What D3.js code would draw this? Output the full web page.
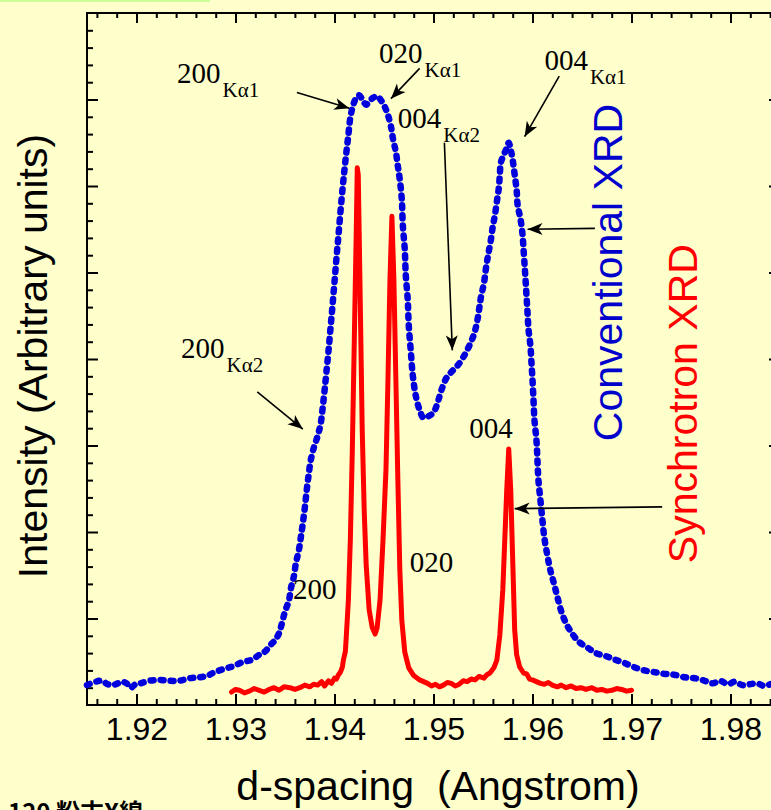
<!DOCTYPE html>
<html>
<head>
<meta charset="utf-8">
<script src="https://cdn.jsdelivr.net/npm/d3@7/dist/d3.min.js"></script>
<style>
  body { margin: 0; background: #ffffcc; }
  svg { display: block; }
</style>
</head>
<body>
<script>
'use strict';

// conventional XRD (blue dotted) : d-spacing and intensity
const convD = [1.9150, 1.9159, 1.9165, 1.9171, 1.9176, 1.9181, 1.9185, 1.9190, 1.9194, 1.9199,
  1.9204, 1.9213, 1.9223, 1.9233, 1.9243, 1.9254, 1.9264, 1.9272, 1.9279, 1.9289,
  1.9298, 1.9308, 1.9316, 1.9324, 1.9330, 1.9335, 1.9340, 1.9344, 1.9347, 1.9350,
  1.9354, 1.9356, 1.9359, 1.9361, 1.9364, 1.9366, 1.9368, 1.9370, 1.9372, 1.9374,
  1.9376, 1.9379, 1.9383, 1.9386, 1.9388, 1.9390, 1.9392, 1.9394, 1.9396, 1.9398,
  1.9400, 1.9402, 1.9404, 1.9406, 1.9408, 1.9410, 1.9412, 1.9414, 1.9416, 1.9419,
  1.9422, 1.9425, 1.9429, 1.9432, 1.9435, 1.9439, 1.9443, 1.9447, 1.9451, 1.9454,
  1.9457, 1.9459, 1.9462, 1.9464, 1.9466, 1.9468, 1.9469, 1.9471, 1.9472, 1.9474,
  1.9475, 1.9477, 1.9479, 1.9482, 1.9486, 1.9490, 1.9495, 1.9500, 1.9504, 1.9508,
  1.9513, 1.9518, 1.9524, 1.9530, 1.9536, 1.9541, 1.9544, 1.9546, 1.9548, 1.9551,
  1.9553, 1.9555, 1.9558, 1.9560, 1.9562, 1.9564, 1.9566, 1.9567, 1.9568, 1.9571,
  1.9574, 1.9576, 1.9578, 1.9580, 1.9582, 1.9584, 1.9585, 1.9588, 1.9590, 1.9591,
  1.9592, 1.9593, 1.9594, 1.9595, 1.9596, 1.9598, 1.9599, 1.9600, 1.9601, 1.9602,
  1.9604, 1.9605, 1.9606, 1.9608, 1.9610, 1.9612, 1.9615, 1.9618, 1.9622, 1.9626,
  1.9630, 1.9635, 1.9641, 1.9647, 1.9656, 1.9664, 1.9673, 1.9682, 1.9692, 1.9702,
  1.9713, 1.9723, 1.9733, 1.9743, 1.9754, 1.9764, 1.9774, 1.9782, 1.9789, 1.9798,
  1.9804, 1.9812, 1.9819, 1.9827, 1.9834, 1.9840];
const convI = [0.23, 0.27, 0.28, 0.24, 0.23, 0.25, 0.27, 0.25, 0.20, 0.24,
  0.25, 0.28, 0.29, 0.28, 0.28, 0.31, 0.32, 0.34, 0.38, 0.42,
  0.45, 0.50, 0.52, 0.58, 0.62, 0.69, 0.75, 0.83, 0.95, 1.08,
  1.21, 1.35, 1.49, 1.64, 1.79, 1.94, 2.10, 2.28, 2.49, 2.67,
  2.83, 2.97, 3.11, 3.25, 3.43, 3.64, 3.87, 4.10, 4.36, 4.62,
  4.89, 5.17, 5.43, 5.70, 5.95, 6.18, 6.39, 6.59, 6.79, 6.94,
  7.02, 7.05, 6.98, 6.94, 6.98, 7.02, 7.04, 6.99, 6.91, 6.82,
  6.69, 6.55, 6.39, 6.23, 6.07, 5.84, 5.55, 5.26, 4.97, 4.68,
  4.39, 4.10, 3.82, 3.58, 3.41, 3.32, 3.34, 3.38, 3.49, 3.64,
  3.78, 3.85, 3.92, 4.02, 4.15, 4.29, 4.43, 4.57, 4.72, 4.88,
  5.05, 5.19, 5.38, 5.54, 5.66, 5.82, 5.98, 6.13, 6.27, 6.36,
  6.44, 6.50, 6.42, 6.30, 6.13, 5.95, 5.78, 5.61, 5.43, 5.26,
  5.09, 4.91, 4.72, 4.53, 4.34, 4.14, 3.95, 3.76, 3.53, 3.29,
  3.06, 2.83, 2.60, 2.37, 2.14, 1.93, 1.73, 1.56, 1.39, 1.21,
  1.05, 0.92, 0.81, 0.73, 0.66, 0.60, 0.57, 0.53, 0.49, 0.44,
  0.40, 0.38, 0.36, 0.35, 0.32, 0.31, 0.28, 0.25, 0.28, 0.24,
  0.27, 0.23, 0.24, 0.25, 0.22, 0.24];

// synchrotron XRD (red solid)
const synD = [1.9296, 1.9300, 1.9304, 1.9309, 1.9314, 1.9319, 1.9324, 1.9329, 1.9334, 1.9339,
  1.9344, 1.9349, 1.9355, 1.9360, 1.9365, 1.9370, 1.9375, 1.9379, 1.9383, 1.9387,
  1.9390, 1.9394, 1.9397, 1.9400, 1.9402, 1.9404, 1.9406, 1.9408, 1.9409, 1.9411,
  1.9412, 1.9414, 1.9416, 1.9418, 1.9420, 1.9422, 1.9423, 1.9424, 1.9426, 1.9428,
  1.9430, 1.9432, 1.9435, 1.9438, 1.9441, 1.9443, 1.9446, 1.9449, 1.9452, 1.9454,
  1.9456, 1.9458, 1.9460, 1.9462, 1.9464, 1.9466, 1.9468, 1.9471, 1.9475, 1.9480,
  1.9486, 1.9490, 1.9494, 1.9498, 1.9502, 1.9506, 1.9510, 1.9514, 1.9518, 1.9522,
  1.9526, 1.9530, 1.9534, 1.9538, 1.9542, 1.9546, 1.9551, 1.9554, 1.9557, 1.9561,
  1.9564, 1.9567, 1.9570, 1.9572, 1.9574, 1.9576, 1.9578, 1.9580, 1.9582, 1.9584,
  1.9587, 1.9591, 1.9594, 1.9597, 1.9600, 1.9604, 1.9608, 1.9612, 1.9616, 1.9620,
  1.9625, 1.9629, 1.9634, 1.9639, 1.9644, 1.9649, 1.9654, 1.9660, 1.9665, 1.9670,
  1.9675, 1.9680, 1.9685, 1.9690, 1.9695, 1.9700];
const synI = [0.15, 0.18, 0.17, 0.14, 0.16, 0.19, 0.17, 0.15, 0.18, 0.20,
  0.17, 0.21, 0.20, 0.18, 0.20, 0.23, 0.21, 0.24, 0.23, 0.27,
  0.22, 0.28, 0.25, 0.31, 0.30, 0.35, 0.38, 0.44, 0.52, 0.62,
  0.81, 1.21, 1.91, 2.95, 4.22, 5.49, 6.21, 6.13, 4.68, 3.18,
  2.25, 1.62, 1.10, 0.90, 0.82, 0.89, 1.21, 1.91, 2.72, 3.76,
  4.91, 5.65, 4.91, 3.76, 2.60, 1.56, 0.98, 0.61, 0.43, 0.34,
  0.29, 0.27, 0.25, 0.22, 0.24, 0.21, 0.23, 0.26, 0.25, 0.22,
  0.24, 0.28, 0.27, 0.30, 0.29, 0.33, 0.31, 0.35, 0.37, 0.43,
  0.52, 0.81, 1.33, 1.91, 2.49, 2.96, 2.49, 1.68, 0.87, 0.58,
  0.44, 0.37, 0.36, 0.30, 0.29, 0.27, 0.25, 0.24, 0.26, 0.23,
  0.21, 0.23, 0.20, 0.22, 0.19, 0.20, 0.18, 0.20, 0.17, 0.18,
  0.16, 0.17, 0.19, 0.18, 0.16, 0.17];

// axis ticks
const xMajor = [1.92, 1.93, 1.94, 1.95, 1.96, 1.97, 1.98];
const yMajor = [1, 2, 3, 4, 5, 6, 7];

// peak labels: main text, subscript, d, intensity
const peakLabels = [
  ['200', 'K\u03b11', 1.9241, 7.19],
  ['020', 'K\u03b11', 1.9445, 7.42],
  ['004', 'K\u03b12', 1.9464, 6.67],
  ['004', 'K\u03b11', 1.9612, 7.34],
  ['200', 'K\u03b12', 1.9245, 4.01],
  ['200', '', 1.9358, 1.23],
  ['020', '', 1.9476, 1.54],
  ['004', '', 1.9536, 3.09]
];

// arrows: from (d, I) to (d, I)
const arrows = [
  [1.9362, 7.08, 1.9415, 6.90],
  [1.9486, 7.36, 1.9457, 7.01],
  [1.9627, 7.27, 1.9592, 6.57],
  [1.9511, 6.50, 1.9519, 4.10],
  [1.9663, 5.51, 1.9595, 5.50],
  [1.9731, 2.29, 1.9582, 2.27],
  [1.9322, 3.62, 1.9368, 3.19]
];

const W = 771, H = 810;
const svg = d3.select('body').append('svg')
  .attr('width', W)
  .attr('height', H)
  .style('background', '#ffffcc');

// thin green strip at top
svg.append('rect')
  .attr('x', 0).attr('y', 0)
  .attr('width', 210).attr('height', 2)
  .attr('fill', '#ccff99');

const x = d3.scaleLinear().domain([1.915, 1.985]).range([87, 780]);
const y = d3.scaleLinear().domain([0, 8]).range([705, 13]);

// minor tick values (every 0.002 / 0.2, skipping the majors)
const xMinor = d3.range(0, 35).map((i) => +(1.916 + i * 0.002).toFixed(3))
  .filter((v) => v < 1.985 && Math.abs(v * 100 - Math.round(v * 100)) > 1e-6);
const yMinor = d3.range(1, 40).map((i) => i * 0.2).filter((v) => Math.abs(v - Math.round(v)) > 1e-6);

function styleAxis(g) {
  g.select('.domain').remove();
  g.selectAll('line').attr('stroke', '#000').attr('stroke-width', 2);
}

// bottom axis
svg.append('g')
  .attr('transform', 'translate(0,705)')
  .call(d3.axisBottom(x).tickValues(xMinor).tickSize(-6).tickFormat(''))
  .call(styleAxis);
svg.append('g')
  .attr('transform', 'translate(0,705)')
  .call(d3.axisBottom(x).tickValues(xMajor).tickSize(-11).tickPadding(12).tickFormat(d3.format('.2f')))
  .call(styleAxis)
  .selectAll('text')
  .attr('fill', '#000')
  .style('font-family', '"Liberation Sans", Arial, sans-serif')
  .style('font-size', '32px');

// top axis
svg.append('g')
  .attr('transform', 'translate(0,13)')
  .call(d3.axisTop(x).tickValues(xMinor).tickSize(-5).tickFormat(''))
  .call(styleAxis);
svg.append('g')
  .attr('transform', 'translate(0,13)')
  .call(d3.axisTop(x).tickValues(xMajor).tickSize(-10).tickFormat(''))
  .call(styleAxis);

// left axis
svg.append('g')
  .attr('transform', 'translate(87,0)')
  .call(d3.axisLeft(y).tickValues(yMinor).tickSize(-6).tickFormat(''))
  .call(styleAxis);
svg.append('g')
  .attr('transform', 'translate(87,0)')
  .call(d3.axisLeft(y).tickValues(yMajor).tickSize(-11).tickFormat(''))
  .call(styleAxis);

// right axis (mostly off-canvas)
svg.append('g')
  .attr('transform', 'translate(780,0)')
  .call(d3.axisRight(y).tickValues(yMajor).tickSize(-11).tickFormat(''))
  .call(styleAxis);

// frame
svg.append('rect')
  .attr('x', x(1.915)).attr('y', y(8))
  .attr('width', x(1.985) - x(1.915))
  .attr('height', y(0) - y(8))
  .attr('fill', 'none')
  .attr('stroke', '#000')
  .attr('stroke-width', 2);

// data lines
const conv = convD.map((d, i) => ({ d: d, v: convI[i] }));
const syn = synD.map((d, i) => ({ d: d, v: synI[i] }));

const smooth = d3.line()
  .x((p) => x(p.d))
  .y((p) => y(p.v))
  .curve(d3.curveCatmullRom.alpha(0.5));

const straight = d3.line()
  .x((p) => x(p.d))
  .y((p) => y(p.v));

svg.append('path')
  .datum(syn)
  .attr('d', straight)
  .attr('fill', 'none')
  .attr('stroke', '#ff0000')
  .attr('stroke-width', 5)
  .attr('stroke-linejoin', 'round')
  .attr('stroke-linecap', 'round');

svg.append('path')
  .datum(conv)
  .attr('d', smooth)
  .attr('fill', 'none')
  .attr('stroke', '#0000dd')
  .attr('stroke-width', 6.5)
  .attr('stroke-dasharray', '3 7')
  .attr('stroke-linecap', 'round');

// arrowhead marker
svg.append('defs').append('marker')
  .attr('id', 'head')
  .attr('markerUnits', 'userSpaceOnUse')
  .attr('viewBox', '-16 -7 18 14')
  .attr('refX', 0).attr('refY', 0)
  .attr('markerWidth', 18).attr('markerHeight', 14)
  .attr('orient', 'auto')
  .append('path')
  .attr('d', 'M0,0 L-15,-6 L-11,0 L-15,6 Z')
  .attr('fill', '#000');

svg.selectAll('.arrow')
  .data(arrows)
  .enter()
  .append('line')
  .attr('class', 'arrow')
  .attr('x1', (a) => x(a[0]))
  .attr('y1', (a) => y(a[1]))
  .attr('x2', (a) => x(a[2]))
  .attr('y2', (a) => y(a[3]))
  .attr('stroke', '#000')
  .attr('stroke-width', 1.6)
  .attr('marker-end', 'url(#head)');

// peak labels
const labels = svg.selectAll('.peak')
  .data(peakLabels)
  .enter()
  .append('text')
  .attr('class', 'peak')
  .attr('x', (p) => x(p[2]))
  .attr('y', (p) => y(p[3]))
  .style('font-family', '"Liberation Serif", "Times New Roman", serif')
  .style('font-size', '29px')
  .attr('fill', '#000')
  .text((p) => p[0]);
labels.filter((p) => p[1] !== '')
  .append('tspan')
  .attr('dx', 2)
  .attr('dy', 14)
  .style('font-size', '21px')
  .text((p) => p[1]);

// rotated series labels
svg.append('text')
  .attr('transform', 'translate(' + x(1.9690) + ',' + y(3.05) + ')rotate(-90)')
  .style('font-family', '"Liberation Sans", Arial, sans-serif')
  .style('font-size', '41px')
  .attr('fill', '#0000cc')
  .text('Conventional XRD');

svg.append('text')
  .attr('transform', 'translate(' + x(1.9766) + ',' + y(1.64) + ')rotate(-90)')
  .style('font-family', '"Liberation Sans", Arial, sans-serif')
  .style('font-size', '41px')
  .attr('fill', '#ff0000')
  .text('Synchrotron XRD');

// axis titles
svg.append('text')
  .attr('transform', 'translate(47,356)rotate(-90)')
  .attr('text-anchor', 'middle')
  .style('font-family', '"Liberation Sans", Arial, sans-serif')
  .style('font-size', '41px')
  .attr('fill', '#000')
  .text('Intensity (Arbitrary units)');

svg.append('text')
  .attr('x', 438)
  .attr('y', 800)
  .attr('text-anchor', 'middle')
  .style('font-family', '"Liberation Sans", Arial, sans-serif')
  .style('font-size', '41px')
  .style('white-space', 'pre')
  .attr('fill', '#000')
  .text('d-spacing  (Angstrom)');

// footer text, only its top shows at the page edge
svg.append('text')
  .attr('x', 8)
  .attr('y', 821)
  .style('font-family', '"Noto Sans CJK JP", "Liberation Sans", sans-serif')
  .style('font-weight', 'bold')
  .style('font-size', '24px')
  .attr('fill', '#000')
  .text('120 粉末X線');
</script>
</body>
</html>
